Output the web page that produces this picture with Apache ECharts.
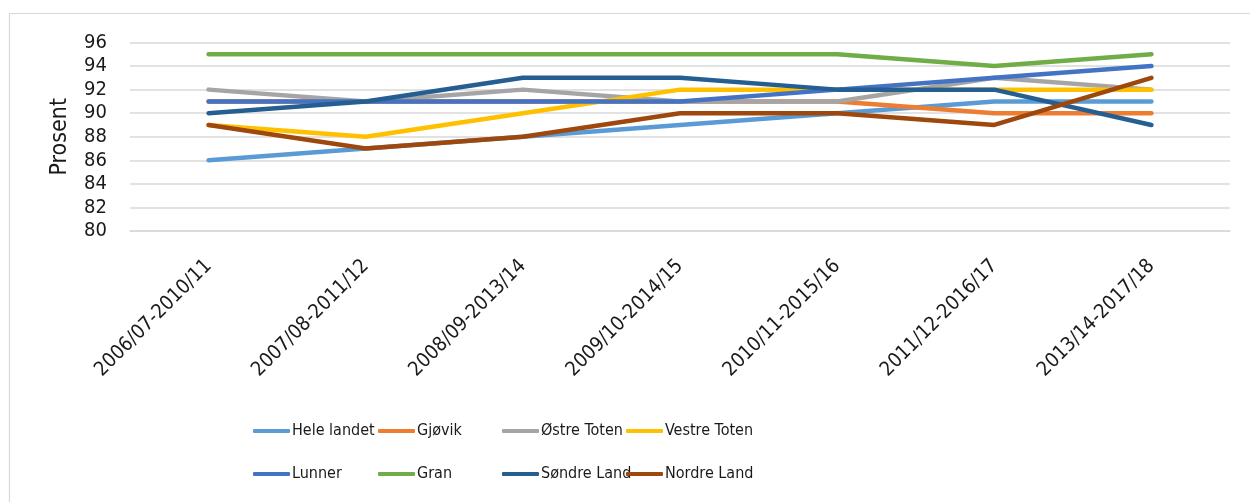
<!DOCTYPE html>
<html>
<head>
<meta charset="utf-8">
<script src="https://cdn.jsdelivr.net/npm/echarts@6/dist/echarts.min.js"></script>
<style>
  html, body { margin: 0; padding: 0; background: #fff; }
  #chart { width: 1250px; height: 502px; }
</style>
</head>
<body>
<div id="chart"></div>
<script>
// Periods (five-year averages)
const categories = ['2006/07-2010/11', '2007/08-2011/12', '2008/09-2013/14', '2009/10-2014/15', '2010/11-2015/16', '2011/12-2016/17', '2013/14-2017/18'];

// Percentages per area
const heleLandet  = [86, 87, 88, 89, 90, 91, 91];
const gjovik      = [91, 91, 91, 91, 91, 90, 90];
const ostreToten  = [92, 91, 92, 91, 91, 93, 92];
const vestreToten = [89, 88, 90, 92, 92, 92, 92];
const lunner      = [91, 91, 91, 91, 92, 93, 94];
const gran        = [95, 95, 95, 95, 95, 94, 95];
const sondreLand  = [90, 91, 93, 93, 92, 92, 89];
const nordreLand  = [89, 87, 88, 90, 90, 89, 93];

const seriesNames = ['Hele landet', 'Gjøvik', 'Østre Toten', 'Vestre Toten', 'Lunner', 'Gran', 'Søndre Land', 'Nordre Land'];
const seriesValues = [heleLandet, gjovik, ostreToten, vestreToten, lunner, gran, sondreLand, nordreLand];
const colors = ['#5B9BD5', '#ED7D31', '#A5A5A5', '#FFC000', '#4472C4', '#70AD47', '#255E91', '#9E480E'];

const yTicks = { min: 80, max: 96, step: 2 };

const FONT = "'DejaVu Sans Condensed', 'Noto Sans', sans-serif";
const TEXT = '#1a1a1a';

// Legend laid out as a fixed 4x2 table
const legendCols = [253, 378, 502, 626];
const legendRows = [423, 466];
const legends = seriesNames.map((name, i) => ({
  data: [name],
  left: legendCols[i % 4],
  top: legendRows[Math.floor(i / 4)],
  icon: 'roundRect',
  itemWidth: 37,
  itemHeight: 4,
  padding: 0,
  textStyle: { fontFamily: FONT, fontSize: 16, color: TEXT, padding: [0, 0, 0, -3] }
}));

const chart = echarts.init(document.getElementById('chart'), null, { renderer: 'canvas' });
chart.setOption({
  backgroundColor: '#fff',
  animation: false,
  color: colors,
  graphic: [{
    type: 'rect',
    shape: { x: 9.5, y: 13.5, width: 1300, height: 600 },
    style: { fill: 'none', stroke: '#d9d9d9', lineWidth: 1.2 },
    silent: true
  }],
  legend: legends,
  grid: { left: 130, right: 20, top: 42.5, height: 188.5, containLabel: false },
  xAxis: {
    type: 'category',
    data: categories,
    boundaryGap: true,
    axisTick: { show: false },
    axisLine: { show: true, lineStyle: { color: '#d9d9d9', width: 1.5 } },
    axisLabel: { rotate: 45, margin: 32, interval: 0, fontFamily: FONT, fontSize: 20, color: TEXT }
  },
  yAxis: {
    type: 'value',
    min: yTicks.min,
    max: yTicks.max,
    interval: yTicks.step,
    name: 'Prosent',
    nameLocation: 'middle',
    nameRotate: 90,
    nameGap: 58,
    nameTextStyle: { fontFamily: FONT, fontSize: 23, color: TEXT },
    axisLine: { show: false },
    axisTick: { show: false },
    axisLabel: { margin: 23, fontFamily: FONT, fontSize: 20, color: TEXT },
    splitLine: { lineStyle: { color: '#d9d9d9', width: 1.5 } }
  },
  series: seriesNames.map((name, i) => ({
    name,
    type: 'line',
    data: seriesValues[i],
    symbol: 'none',
    lineStyle: { width: 4.5, color: colors[i], cap: 'round', join: 'round' },
    itemStyle: { color: colors[i] },
    emphasis: { disabled: true }
  }))
});
</script>
</body>
</html>
